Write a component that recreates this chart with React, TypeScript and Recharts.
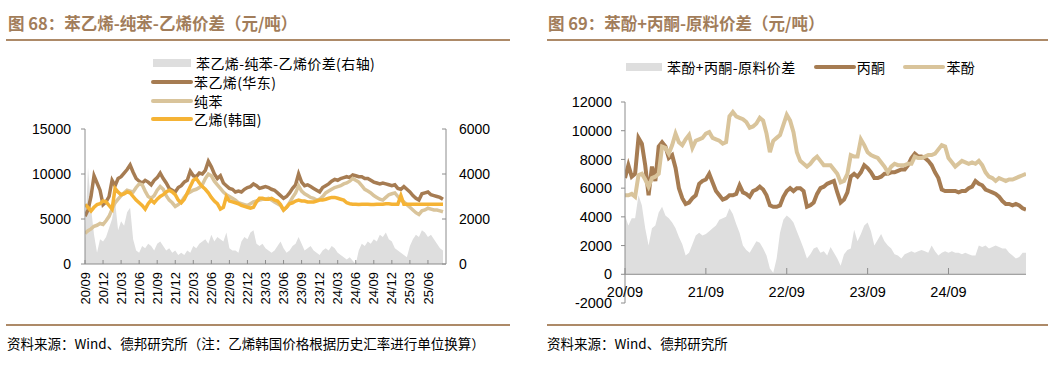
import React from 'react';
import { ComposedChart, Line, Area, XAxis, YAxis, ReferenceLine } from 'recharts';

// ---------- Left chart (图68) : half-month points from 2020/09 ----------
const leftTickLabels = ['20/09','20/12','21/03','21/06','21/09','21/12','22/03','22/06','22/09','22/12','23/03','23/06','23/09','23/12','24/03','24/06','24/09','24/12','25/03','25/06'];

const styreneEast = [
  5300,6000,7500,9800,9000,8200,6600,6900,7500,9300,8700,9500,9700,10100,10500,11000,10200,9500,9200,9000,
  9300,9100,8800,9300,9600,10100,9500,9000,8400,8200,8000,8500,8700,9100,9300,10300,9800,9700,10100,10000,
  10400,11400,10800,10000,9500,9800,9000,8700,8400,8300,8000,8100,8000,8300,8500,8600,8900,8700,8400,8500,
  8600,8500,8300,8200,7900,7600,7300,7500,7900,8400,8800,10000,9100,8700,8800,8600,8400,8200,8000,8500,
  8700,8900,9200,9400,9300,9500,9600,9700,9600,9900,9800,9700,9700,9500,9500,9300,9100,9000,8900,9000,
  8900,8800,8700,8800,8400,8300,8600,8300,8000,7600,7300,7100,7800,7900,8000,7700,7600,7500,7400,7200,
];
const pureBenzene = [
  3400,3700,3900,4200,4300,4500,4400,4800,5300,6100,6800,7200,7600,7900,8200,8100,8000,8500,8900,8800,
  8100,7500,7300,7600,8200,8600,8300,7600,7100,6800,6400,6600,6900,7400,7800,8000,8200,8300,8500,8800,
  9500,10000,9800,9200,8800,8400,8000,7700,7500,7300,7100,6800,6700,6600,6500,6700,6900,7000,7100,7200,
  7200,7300,7100,6900,6700,6500,6000,6300,6800,7400,7900,8700,8100,7800,7600,7400,7300,7100,7200,7500,
  7900,8100,8300,8500,8600,8700,8900,9000,9200,9500,9300,9100,8700,8300,8100,7900,7600,7400,7200,7100,
  7400,7700,7800,7900,7500,7100,6900,6600,6300,6000,5700,5500,5900,6000,6200,6100,6000,6000,5900,5800,
];
const ethyleneKorea = [
  6600,6300,5900,6300,6600,6700,7000,6900,6500,6100,8400,8000,7700,7800,8000,7900,7500,7100,6800,6500,
  6100,6700,7100,6800,7200,7500,7700,8000,8200,8000,7700,7100,6800,7200,7900,8600,9300,9500,9000,8600,
  8300,7900,7400,7000,6700,6100,6300,7500,7000,6900,6800,6700,6500,6400,6300,6200,6300,6900,7300,7300,
  7200,7200,7300,7100,7000,6600,6000,6300,6700,6800,7000,7100,7000,7000,6900,6900,6900,7000,7100,7100,
  7200,7300,7400,7400,7300,7200,7100,6800,6700,6650,6650,6600,6650,6650,6650,6600,6600,6650,6650,6650,
  6700,6700,6650,6650,6650,7600,6650,6650,6650,6650,6650,6650,6650,6650,6650,6650,6650,6650,6650,6650,
];
const spreadLeft = [
  1000,4300,2500,1300,500,1100,1000,1200,1600,2000,2800,1500,1900,1700,2300,2500,1100,600,500,800,
  700,900,800,600,900,1000,800,600,700,500,600,400,500,400,600,500,800,700,900,1000,
  1100,900,1300,1000,1200,1100,1000,1400,700,600,600,500,1000,1200,1100,1400,1500,900,800,900,
  700,600,500,600,800,1000,700,500,600,800,900,1200,900,600,700,800,600,500,400,600,
  700,600,800,700,500,400,300,200,300,150,0,600,900,800,1000,900,1100,1000,1300,1200,
  1400,1100,1000,700,600,500,400,300,800,1100,1300,1200,1500,1400,1200,1300,1100,900,700,600,
];

// ---------- Right chart (图69) ----------
const rightTickLabels = ['20/09','21/09','22/09','23/09','24/09'];

const acetone = [
  6700,7600,6800,7000,9500,9100,7600,5500,7500,6500,8900,9200,8900,8100,8300,7400,6000,5300,4900,5000,
  5300,5500,6300,6500,6600,7000,6400,5800,5500,5200,5300,5500,5500,5600,6200,5700,5600,5400,5800,5900,
  6100,5900,5500,4800,4700,4700,4800,5400,5800,6000,5800,6000,6000,5800,4700,4800,5000,5600,6000,6100,
  6300,6400,6500,5700,5000,5200,5700,6800,7000,6800,7100,7600,7400,7100,6700,6700,6800,7000,7000,7100,
  7100,7200,7300,7300,7600,8100,8400,8200,8200,8100,7900,7600,7100,6700,5900,5800,5800,5800,5800,5700,
  5800,5800,6000,6100,6500,6300,6200,5900,5800,5700,5600,5400,5100,4900,4900,4800,4900,4800,4600,4500,
];
const phenol = [
  5500,5500,5600,5400,6900,7000,6600,6100,6700,6800,7000,8900,8800,8400,9000,9800,9200,9000,9400,9700,
  8800,9300,9400,9500,9800,9900,9500,9400,9300,9100,9200,11000,11300,11000,10900,10800,10600,10200,10300,10500,
  10900,10700,9800,8500,9300,9500,9700,10400,11100,10700,9900,8500,7900,7700,7500,7700,8000,8200,7900,7600,
  7600,7600,7300,7000,6400,6500,7000,8300,8200,8200,9400,9000,8500,8300,8200,8100,7800,7500,7100,7500,
  7700,7600,7600,7600,7700,7700,8200,8100,8100,8200,8300,8300,8400,8700,9000,8900,8100,7800,7500,7700,
  7900,7800,7700,7800,7700,7900,7600,7100,6800,6700,6500,6700,6600,6500,6600,6600,6700,6800,6900,7000,
];
const spreadRight = [
  4100,3400,3900,3900,5500,4800,3200,2000,3200,3400,4300,4700,4100,3900,3600,3200,2600,2100,1300,1500,
  2100,2700,2900,2700,2800,3000,3200,3400,3800,3900,4000,4600,4200,3500,2900,2000,1700,1500,1900,2300,
  2200,1800,1300,400,100,1100,2900,3800,4100,3900,3600,3000,2400,1800,1100,1400,1800,1900,1500,1600,
  1300,1900,1500,1100,600,1400,1700,1800,3100,2300,2800,3400,3600,3000,2000,2400,2800,2300,2000,1800,
  1400,1300,1100,1400,1500,1600,1500,1600,1700,1600,1500,2000,1600,1300,1500,1600,1500,1600,1500,1500,
  1400,1500,1400,1300,1300,2000,1900,2000,1800,1900,2000,1900,1800,1800,1500,1300,1100,1200,1500,1500,
];

// ---------- tables built from arrays ----------
const leftData = styreneEast.map((v, i) => ({
  i, styrene: v, benzene: pureBenzene[i], ethylene: ethyleneKorea[i], spread: spreadLeft[i],
}));
const rightData = acetone.map((v, i) => ({
  i, acetone: v, phenol: phenol[i], spread: spreadRight[i],
}));
const leftTicks = leftTickLabels.map((_, k) => k * 6);
const rightTicks = rightTickLabels.map((_, k) => k * 24);

const C_BROWN = '#a67c52';
const C_TAN = '#d9c49b';
const C_GOLD = '#f5b335';
const C_GRAY = '#dedede';
const C_AXIS = '#8c8c8c';
const C_TITLE = '#a27d5a';
const C_RULE = '#ad8a68';
const NUM_FONT = '"Liberation Sans", Arial, sans-serif';
const CJK_FONT = '"Noto Sans CJK SC", "Liberation Sans", sans-serif';

const LeftYTick = (p: any) => (
  <g>
    <line x1={p.x - 4} x2={p.x} y1={p.y} y2={p.y} stroke={C_AXIS} />
    <text x={p.x - 14} y={p.y} dy="0.35em" textAnchor="end" fontSize={14} fill="#000" fontFamily={NUM_FONT}>{p.payload.value}</text>
  </g>
);
const RightYTick = (p: any) => (
  <g>
    <line x1={p.x - 4} x2={p.x} y1={p.y} y2={p.y} stroke={C_AXIS} />
    <text x={p.x + 13} y={p.y} dy="0.35em" textAnchor="start" fontSize={14} fill="#000" fontFamily={NUM_FONT}>{p.payload.value}</text>
  </g>
);
const LeftXTick = (p: any) => {
  const idx = leftTicks.indexOf(p.payload.value);
  return (
    <g>
      <line x1={p.x} x2={p.x} y1={p.y} y2={p.y - 4} stroke={C_AXIS} />
      <text transform={`translate(${p.x},${p.y + 8}) rotate(-90)`} dy="0.35em" textAnchor="end" fontSize={13} fill="#000" fontFamily={NUM_FONT}>{leftTickLabels[idx]}</text>
    </g>
  );
};
const RightXTick = (p: any) => {
  const idx = rightTicks.indexOf(p.payload.value);
  return (
    <g>
      <line x1={p.x} x2={p.x} y1={p.y - 29} y2={p.y - 35} stroke={C_AXIS} />
      <text x={p.x} y={p.y - 11} dy="0.35em" textAnchor="middle" fontSize={14.5} fill="#000" fontFamily={NUM_FONT}>{rightTickLabels[idx]}</text>
    </g>
  );
};

const LegendLine = ({ color, w = 38 }: { color: string; w?: number }) => (
  <svg width={w + 4} height={10} style={{ display: 'block' }}>
    <line x1={2} x2={w + 2} y1={5} y2={5} stroke={color} strokeWidth={4} strokeLinecap="round" />
  </svg>
);
const LegendBox = ({ w = 38 }: { w?: number }) => (
  <div style={{ width: w, height: 8, background: C_GRAY, margin: '0 2px' }} />
);

const abs = (left: number, top: number, extra: any = {}) => ({ position: 'absolute' as const, left, top, ...extra });

export default function App() {
  const legendText = { fontFamily: CJK_FONT, fontSize: 14, letterSpacing: 0.4, color: '#000', whiteSpace: 'nowrap' as const, lineHeight: '14px' };
  return (
    <div style={{ position: 'absolute', left: 0, top: 0, width: 1063, height: 367, background: '#fff', overflow: 'hidden' }}>
      {/* titles */}
      <div style={abs(8, 11, { fontFamily: CJK_FONT, fontWeight: 700, fontSize: 16.5, color: C_TITLE, whiteSpace: 'nowrap' })}>图 68：苯乙烯-纯苯-乙烯价差（元/吨）</div>
      <div style={abs(548, 11, { fontFamily: CJK_FONT, fontWeight: 700, fontSize: 16.5, color: C_TITLE, whiteSpace: 'nowrap' })}>图 69：苯酚+丙酮-原料价差（元/吨）</div>
      <div style={abs(6, 39, { width: 504, height: 2, background: C_RULE })} />
      <div style={abs(547, 39, { width: 501, height: 2, background: C_RULE })} />
      <div style={abs(6, 324, { width: 504, height: 2, background: C_RULE })} />
      <div style={abs(547, 324, { width: 501, height: 2, background: C_RULE })} />
      <div style={abs(7, 333, { fontFamily: CJK_FONT, fontSize: 13.5, color: '#000', whiteSpace: 'nowrap' })}>资料来源：Wind、德邦研究所（注：乙烯韩国价格根据历史汇率进行单位换算）</div>
      <div style={abs(547, 333, { fontFamily: CJK_FONT, fontSize: 13.5, color: '#000', whiteSpace: 'nowrap' })}>资料来源：Wind、德邦研究所</div>

      {/* left chart */}
      <div style={abs(0, 0)}>
        <ComposedChart width={530} height={367} data={leftData} margin={{ top: 129, right: 24, bottom: 53, left: 25 }}>
          <XAxis dataKey="i" type="number" domain={[0, 120]} ticks={leftTicks} interval={0} height={50}
            tickSize={0} tickMargin={0} axisLine={{ stroke: C_AXIS }} tickLine={false} tick={LeftXTick} allowDataOverflow />
          <YAxis yAxisId="l" domain={[0, 15000]} ticks={[0, 5000, 10000, 15000]} width={60} interval={0}
            tickSize={0} tickMargin={0} axisLine={{ stroke: C_AXIS }} tickLine={false} tick={LeftYTick} allowDataOverflow />
          <YAxis yAxisId="r" orientation="right" domain={[0, 6000]} ticks={[0, 2000, 4000, 6000]} width={60} interval={0}
            tickSize={0} tickMargin={0} axisLine={{ stroke: C_AXIS }} tickLine={false} tick={RightYTick} allowDataOverflow />
          <Area yAxisId="r" type="linear" dataKey="spread" fill={C_GRAY} fillOpacity={1} stroke="none" isAnimationActive={false} />
          <Line yAxisId="l" type="linear" dataKey="styrene" stroke={C_BROWN} strokeWidth={3.5} dot={false} isAnimationActive={false} />
          <Line yAxisId="l" type="linear" dataKey="benzene" stroke={C_TAN} strokeWidth={3.5} dot={false} isAnimationActive={false} />
          <Line yAxisId="l" type="linear" dataKey="ethylene" stroke={C_GOLD} strokeWidth={3.5} dot={false} isAnimationActive={false} />
        </ComposedChart>
      </div>

      {/* left legend */}
      <div style={abs(151, 56, { display: 'flex', alignItems: 'center', gap: 3 })}><LegendBox /><span style={legendText}>苯乙烯-纯苯-乙烯价差(右轴)</span></div>
      <div style={abs(151, 75, { display: 'flex', alignItems: 'center', gap: 1 })}><LegendLine color={C_BROWN} /><span style={legendText}>苯乙烯(华东)</span></div>
      <div style={abs(151, 94, { display: 'flex', alignItems: 'center', gap: 1 })}><LegendLine color={C_TAN} /><span style={legendText}>纯苯</span></div>
      <div style={abs(151, 112, { display: 'flex', alignItems: 'center', gap: 1 })}><LegendLine color={C_GOLD} /><span style={legendText}>乙烯(韩国)</span></div>

      {/* right chart */}
      <div style={abs(530, 0)}>
        <ComposedChart width={533} height={367} data={rightData} margin={{ top: 102, right: 37, bottom: 34, left: 35 }}>
          <XAxis dataKey="i" type="number" domain={[0, 119]} ticks={rightTicks} interval={0} height={30}
            tickSize={0} tickMargin={0} axisLine={false} tickLine={false} tick={RightXTick} allowDataOverflow />
          <YAxis domain={[-2000, 12000]} ticks={[-2000, 0, 2000, 4000, 6000, 8000, 10000, 12000]} width={60} interval={0}
            tickSize={0} tickMargin={0} axisLine={{ stroke: C_AXIS }} tickLine={false} tick={(p: any) => (
              <g>
                <line x1={p.x - 4} x2={p.x} y1={p.y} y2={p.y} stroke={C_AXIS} />
                <text x={p.x - 13} y={p.y} dy="0.35em" textAnchor="end" fontSize={14.5} fill="#000" fontFamily={NUM_FONT}>{p.payload.value}</text>
              </g>
            )} allowDataOverflow />
          <Area type="linear" dataKey="spread" fill={C_GRAY} fillOpacity={1} stroke="none" baseValue={0} isAnimationActive={false} />
          <ReferenceLine y={0} stroke={C_AXIS} />
          <Line type="linear" dataKey="acetone" stroke={C_BROWN} strokeWidth={4} dot={false} isAnimationActive={false} />
          <Line type="linear" dataKey="phenol" stroke={C_TAN} strokeWidth={4} dot={false} isAnimationActive={false} />
        </ComposedChart>
      </div>

      {/* right legend */}
      <div style={abs(626, 60, { display: 'flex', alignItems: 'center' })}>
        <div style={{ width: 36, height: 8, background: C_GRAY }} />
        <span style={{ ...legendText, marginLeft: 5 }}>苯酚+丙酮-原料价差</span>
        <div style={{ marginLeft: 18 }}><LegendLine color={C_BROWN} w={38} /></div>
        <span style={{ ...legendText, marginLeft: 1 }}>丙酮</span>
        <div style={{ marginLeft: 18 }}><LegendLine color={C_TAN} w={38} /></div>
        <span style={{ ...legendText, marginLeft: 1 }}>苯酚</span>
      </div>
    </div>
  );
}
